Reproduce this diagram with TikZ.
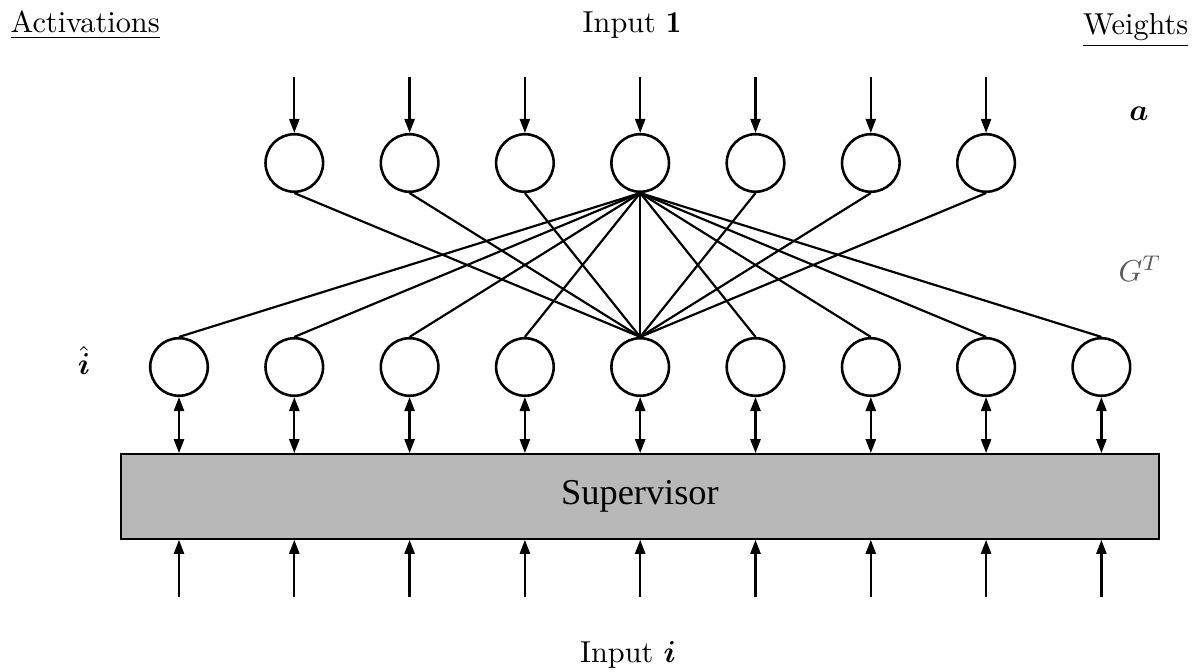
\documentclass[tikz,border=0pt]{standalone}
\usepackage{fontspec}
\usepackage{bm}
\usetikzlibrary{arrows.meta}
\newfontfamily\supfont{Liberation Serif}
\begin{document}
\begin{tikzpicture}[x=0.33pt,y=-0.33pt,
  unit/.style={circle,draw,line width=0.85pt,minimum size=19pt,inner sep=0pt},
  link/.style={line width=0.72pt},
  feed/.style={line width=0.75pt,-{Triangle[length=4.6pt,width=3.3pt]}},
  both/.style={line width=0.75pt,{Triangle[length=4.6pt,width=3.3pt]}-{Triangle[length=4.6pt,width=3.3pt]}},
  lbl/.style={inner sep=0pt,anchor=base}]
\useasboundingbox (0,0) rectangle (1197,672);

% header labels
\node[lbl,anchor=base west] (act) at (10,33) {\underline{Activations}};
\node[lbl] (in1) at (632,33) {Input $\mathbf{1}$};
\node[lbl,anchor=base east] (wts) at (1189,35) {\underline{Weights}};

% side labels
\node[lbl] (av) at (1139,121) {$\bm{a}$};
\node[lbl,anchor=base west,text=black!65] (gt) at (1118,282) {$G^T$};
\node[lbl] (ih) at (84,375) {$\hat{\bm{i}}$};
\node[lbl] (ini) at (628,663) {Input $\bm{i}$};

% units of the two layers
\foreach \k in {1,...,9}
  \node[unit] (b\k) at ({179+115.3*(\k-1)},367) {};
\foreach \k in {2,...,8}
  \node[unit] (t\k) at ({179+115.3*(\k-1)},163) {};

% supervisor block
\node[draw,line width=0.6pt,fill=black!28,minimum width=342.5pt,minimum height=28pt,
      inner sep=0pt,font=\supfont\fontsize{12}{14}\selectfont] (sup) at (640,496.5) {Supervisor};

% weights G^T
\foreach \k in {1,...,9}
  \draw[link] (t5.south) -- (b\k.north);
\foreach \k in {2,...,8}
  \draw[link] (b5.north) -- (t\k.south);

% input 1 into the top layer
\foreach \k in {2,...,8} {
  \coordinate (src\k) at ({179+115.3*(\k-1)},77);
  \draw[feed] (src\k) -- (t\k.north);
}

% exchange with the supervisor and input i
\foreach \k in {1,...,9} {
  \draw[both] (b\k.south) -- (b\k.south |- sup.north);
  \coordinate (low\k) at ({179+115.3*(\k-1)},597);
  \draw[feed] (low\k) -- (low\k |- sup.south);
}
\end{tikzpicture}
\end{document}
